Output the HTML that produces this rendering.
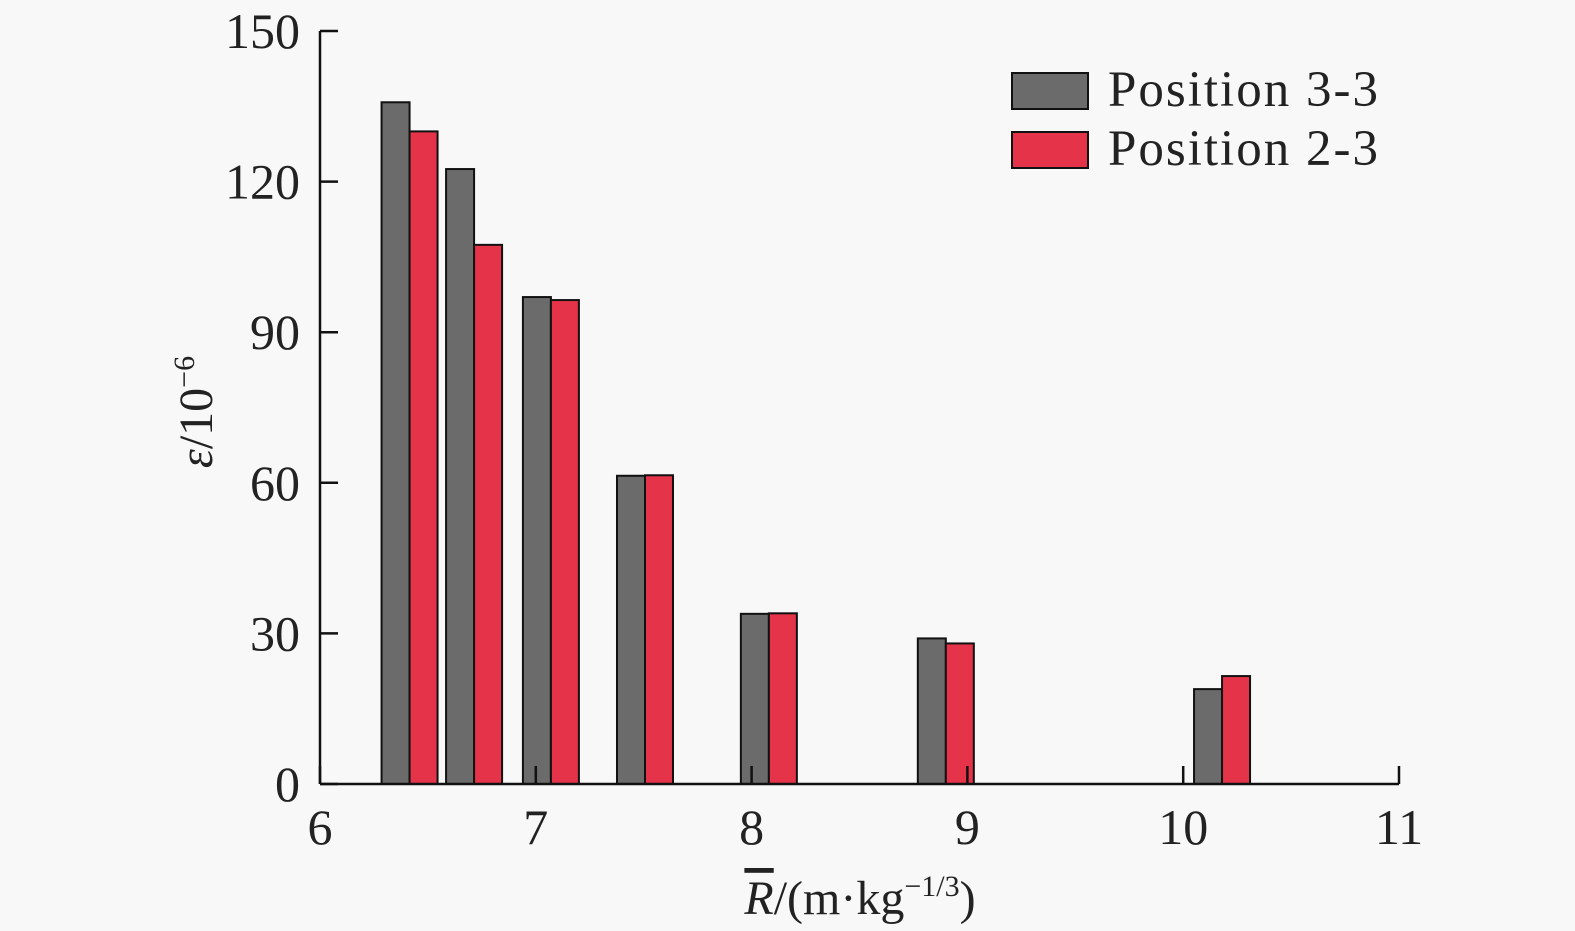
<!DOCTYPE html>
<html><head><meta charset="utf-8"><style>
html,body{margin:0;padding:0;background:#f8f8f8;}
svg{display:block;font-family:"Liberation Serif",serif;}
</style></head><body>
<svg id="chart" width="1575" height="931" viewBox="0 0 1575 931">
<rect width="1575" height="931" fill="#f8f8f8"/>
<g id="bars"></g>
<g id="axes"></g>
<text x="0" y="0" transform="translate(212,412) rotate(-90)" text-anchor="middle" font-size="48" fill="#222"><tspan font-style="italic">ε</tspan>/10<tspan font-size="30" dy="-18">−6</tspan></text>
<text x="860" y="914" text-anchor="middle" font-size="48" fill="#222"><tspan font-style="italic" text-decoration="overline">R</tspan>/(m·kg<tspan font-size="30" dy="-18">−1/3</tspan><tspan dy="18">)</tspan></text>
<g>
<rect x="1012" y="73" width="76" height="36" fill="#6b6b6b" stroke="#111" stroke-width="2"/>
<text x="1108" y="106" font-size="51" letter-spacing="2" fill="#222">Position 3-3</text>
<rect x="1012" y="132" width="76" height="36" fill="#e5344a" stroke="#111" stroke-width="2"/>
<text x="1108" y="165" font-size="51" letter-spacing="2" fill="#222">Position 2-3</text>
</g>
</svg>
<script>
const categories = [6.415, 6.714, 7.07, 7.506, 8.08, 8.9, 10.18];
const series33 = [135.8, 122.5, 97, 61.4, 33.9, 29, 18.9];
const series23 = [130, 107.4, 96.4, 61.5, 34, 28, 21.5];
const xTicks = [6, 7, 8, 9, 10, 11];
const yTicks = [0, 30, 60, 90, 120, 150];

const NS = "http://www.w3.org/2000/svg";
const x = v => 320 + (v - 6) * 215.8;
const y = v => 784 - v * 5.02;
const bw = 28;
function mk(tag, attrs, parent) {
  const el = document.createElementNS(NS, tag);
  for (const k in attrs) el.setAttribute(k, attrs[k]);
  parent.appendChild(el);
  return el;
}
const bars = document.getElementById('bars');
categories.forEach((c, i) => {
  const cx = x(c);
  const a = mk('rect', {x: cx - bw, y: y(series33[i]), width: bw, height: y(0) - y(series33[i]), fill: '#6b6b6b', stroke: '#111', 'stroke-width': 2}, bars);
  
  
  const b = mk('rect', {x: cx, y: y(series23[i]), width: bw, height: y(0) - y(series23[i]), fill: '#e5344a', stroke: '#111', 'stroke-width': 2}, bars);
  
  
});
const axes = document.getElementById('axes');
const xa = mk('line', {x1: 320, y1: y(0), x2: x(11), y2: y(0), stroke: '#111', 'stroke-width': 2.5}, axes);


const ya = mk('line', {x1: 320, y1: y(0), x2: 320, y2: y(150), stroke: '#111', 'stroke-width': 2.5}, axes);


xTicks.forEach(t => {
  const l = mk('line', {x1: x(t), y1: y(0), x2: x(t), y2: y(0) - 18, stroke: '#111', 'stroke-width': 2.5}, axes);
  
  
  const tx = mk('text', {x: x(t), y: 844, 'text-anchor': 'middle', 'font-size': 50, fill: '#222'}, axes);
  tx.textContent = t;
  
  
});
yTicks.forEach(t => {
  const l = mk('line', {x1: 320, y1: y(t), x2: 338, y2: y(t), stroke: '#111', 'stroke-width': 2.5}, axes);
  
  
  const tx = mk('text', {x: 300, y: y(t) + 17, 'text-anchor': 'end', 'font-size': 50, fill: '#222'}, axes);
  tx.textContent = t;
  
  
});
</script>
</body></html>
